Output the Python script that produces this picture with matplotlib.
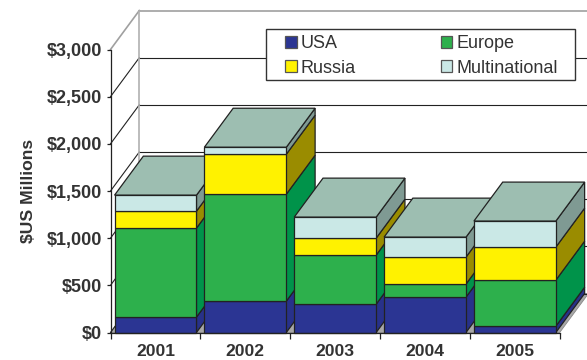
import matplotlib
matplotlib.use("Agg")
import matplotlib.pyplot as plt
from matplotlib.patches import Polygon, Patch, Rectangle

plt.rcParams['font.family'] = ['Liberation Sans', 'DejaVu Sans']

years = ['2001', '2002', '2003', '2004', '2005']
usa = [163, 332, 300, 375, 67]
europe = [943, 1134, 520, 138, 488]
russia = [180, 424, 180, 286, 350]
multinational = [170, 74, 223, 212, 276]
series = [usa, europe, russia, multinational]
names = ['USA', 'Europe', 'Russia', 'Multinational']
y_ticks = [0, 500, 1000, 1500, 2000, 2500, 3000]

front = ['#2B3593', '#2DB04C', '#FFF200', '#CAE8E6']
side = ['#28318A', '#00934A', '#9A8C00', '#7F9A93']
top_col = '#9DBEB1'
floor_col = '#A8A8A8'
edge = '#222222'
txt = '#333333'

W, H = 587, 360
fig = plt.figure(figsize=(W / 100, H / 100), dpi=100, facecolor='white')
x0, x1, y0, y1 = 110.5, 559.7, 332.5, 49.5
ax = fig.add_axes([x0 / W, 1 - y0 / H, (x1 - x0) / W, (y0 - y1) / H])
ax.set_xlim(0, 5)
ax.set_ylim(0, 3000)
ax.patch.set_visible(False)

dx = 28.8 / ((x1 - x0) / 5)   # depth in category units
dy = 39.0 / ((y0 - y1) / 3000)  # depth in value units
lw = 0.9

# floor
ax.add_patch(Polygon([(0, 0), (5, 0), (5 + dx, dy), (dx, dy)], closed=True,
                     fc=floor_col, ec='#888888', lw=0.6, clip_on=False, zorder=1))
# walls
for v in y_ticks:
    grey = v == 3000
    c = '#A0A0A0' if grey else '#222222'
    w = 1.2 if grey else 0.8
    ax.plot([0, dx], [v, v + dy], color=c, lw=w, clip_on=False, zorder=1)
    ax.plot([dx, 5.5], [v + dy, v + dy], color=c, lw=w, clip_on=False, zorder=1)
ax.plot([dx, dx], [dy, 3000 + dy], color='#B0B0B0', lw=1.2, clip_on=False, zorder=1)

# bars
for i in range(len(years)):
    left = i + 0.045
    right = i + 0.957
    base = 0
    z = 3 + i
    for k, s in enumerate(series):
        v = s[i]
        ax.add_patch(Polygon([(right, base), (right + dx, base + dy),
                              (right + dx, base + v + dy), (right, base + v)],
                             closed=True, fc=side[k], ec=edge, lw=lw, clip_on=False, zorder=z))
        ax.add_patch(Rectangle((left, base), right - left, v, fc=front[k], ec=edge,
                               lw=lw, clip_on=False, zorder=z + 0.2))
        base += v
    ax.add_patch(Polygon([(left, base), (right, base), (right + dx, base + dy), (left + dx, base + dy)],
                         closed=True, fc=top_col, ec=edge, lw=lw, clip_on=False, zorder=z + 0.1))

# axes
for s in ['top', 'right']:
    ax.spines[s].set_visible(False)
for s in ['left', 'bottom']:
    ax.spines[s].set_color('#222222')
    ax.spines[s].set_linewidth(0.9)
    ax.spines[s].set_zorder(20)
ax.set_yticks(y_ticks)
ax.set_yticklabels([f'${v:,}' for v in y_ticks], fontsize=13, fontweight='bold', color=txt)
ax.tick_params(axis='y', length=3.0, width=0.9, color='#222222', pad=3)
ax.set_xticks(range(6))
ax.set_xticklabels([''] * 6)
ax.tick_params(axis='x', which='major', length=4, width=0.9, color='#222222')
ax.set_xticks([i + 0.5 for i in range(5)], minor=True)
ax.set_xticklabels(years, minor=True, fontsize=12.6, fontweight='bold', color=txt)
ax.tick_params(axis='x', which='minor', length=0, pad=8)
ax.set_ylabel('$US Millions', fontsize=12.6, fontweight='bold', color=txt)
ax.yaxis.set_label_coords((36 - x0) / (x1 - x0), 0.5)

# legend
fig.add_artist(Rectangle((266 / W, 1 - 80 / H), 309 / W, 51 / H, transform=fig.transFigure,
                         fc='white', ec='#333333', lw=1.0, zorder=30))
handles = [Patch(fc=front[k], ec='#555555', lw=0.9) for k in [0, 2, 1, 3]]
labels = [names[k] for k in [0, 2, 1, 3]]
leg = fig.legend(handles, labels, ncol=2, frameon=False, loc='upper left',
                 bbox_to_anchor=(285 / W, 1 - 35.5 / H), borderaxespad=0, borderpad=0,
                 fontsize=13, handlelength=0.66, handleheight=0.66, handletextpad=0.22,
                 columnspacing=4.68, labelspacing=0.40, labelcolor=txt)
leg.set_zorder(31)

fig.savefig('out.png', dpi=100, facecolor='white')
